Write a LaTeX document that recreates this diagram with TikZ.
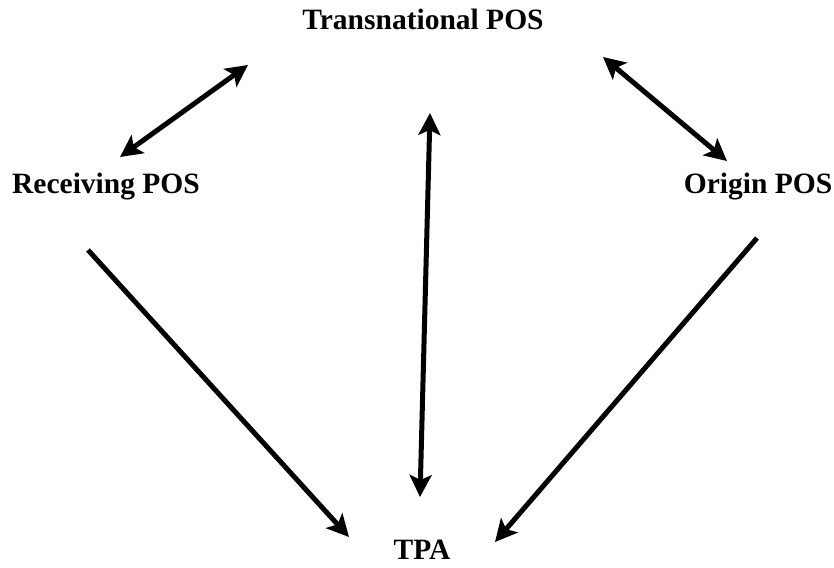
\documentclass[tikz,border=0pt]{standalone}
\usepackage{fontspec}
\setmainfont{Liberation Serif}
\usetikzlibrary{arrows.meta}
\begin{document}
\begin{tikzpicture}[x=1pt,y=-1pt,
  lbl/.style={font=\bfseries\fontsize{29.5}{34}\selectfont, inner sep=0pt, anchor=base},
  conn/.style={line width=5pt, {Stealth[length=22pt,width=22pt,inset=5pt]}-{Stealth[length=22pt,width=22pt,inset=5pt]}},
  oneway/.style={line width=5pt, -{Stealth[length=22pt,width=22pt,inset=5pt]}}]
\useasboundingbox (0,0) rectangle (834,567);
\node[lbl] (trans) at (423,30) {Transnational POS};
\node[lbl] (recv) at (106,193) {Receiving POS};
\node[lbl] (orig) at (758,193) {Origin POS};
\node[lbl] (tpa) at (422,559) {TPA};
\coordinate (a1) at (120,157);
\coordinate (a2) at (248,65);
\coordinate (b1) at (603,57);
\coordinate (b2) at (727,161);
\coordinate (c1) at (430,113);
\coordinate (c2) at (420,497);
\coordinate (d1) at (88,250);
\coordinate (d2) at (349,537);
\coordinate (e1) at (757,238);
\coordinate (e2) at (495,542);
\draw[conn] (a1) -- (a2);
\draw[conn] (b1) -- (b2);
\draw[conn] (c1) -- (c2);
\draw[oneway] (d1) -- (d2);
\draw[oneway] (e1) -- (e2);
\end{tikzpicture}
\end{document}
